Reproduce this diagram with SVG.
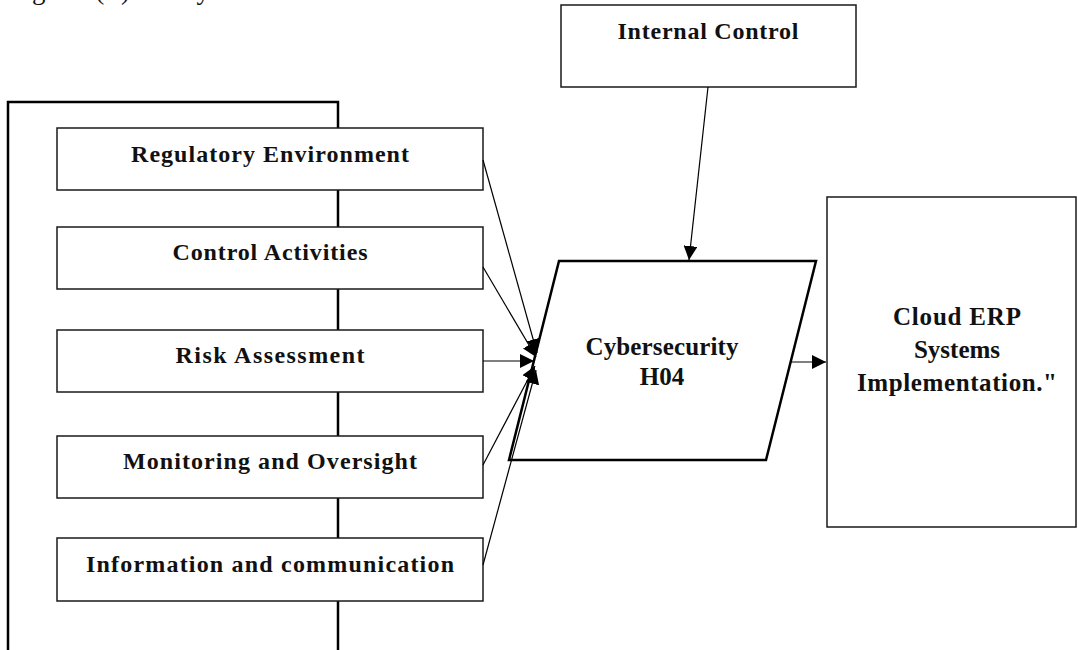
<svg xmlns="http://www.w3.org/2000/svg" width="1078" height="650" viewBox="0 0 1078 650">
  <style>
    .box { fill: #ffffff; stroke: #1a1a1a; stroke-width: 1.5; }
    .frame { fill: none; stroke: #000000; stroke-width: 2.5; }
    .para { fill: #ffffff; stroke: #000000; stroke-width: 2.5; }
    .lbl { font-family: "Liberation Serif", "Times New Roman", serif; font-weight: bold; font-size: 24px; fill: #111111; text-anchor: middle; }
    .big { font-size: 25px; }
    .edge { fill: none; stroke: #000000; stroke-width: 1.2; marker-end: url(#arrow); }
    .cap { font-family: "Liberation Serif", "Times New Roman", serif; font-size: 27px; fill: #111111; }
  </style>
  <defs>
    <marker id="arrow" viewBox="0 0 14 14" refX="14" refY="7" markerWidth="14" markerHeight="14" markerUnits="userSpaceOnUse" orient="auto">
      <path d="M0,0 L14,7 L0,14 Z" fill="#000000"/>
    </marker>
  </defs>
  <rect width="1078" height="650" fill="#ffffff"/>

  <!-- caption, clipped by the top edge -->
  <text class="cap" x="6" y="-1" textLength="204" lengthAdjust="spacing">Figure (1) Study</text>

  <!-- frame grouping the internal control components -->
  <g id="frame">
    <rect class="frame" x="8" y="102" width="330" height="560"/>
  </g>

  <g id="regulatory-environment">
    <rect class="box" x="57" y="128" width="426" height="62"/>
    <text class="lbl" x="270" y="162" textLength="278" lengthAdjust="spacing">Regulatory Environment</text>
  </g>
  <g id="control-activities">
    <rect class="box" x="57" y="227" width="426" height="62"/>
    <text class="lbl" x="270" y="260" textLength="195" lengthAdjust="spacing">Control Activities</text>
  </g>
  <g id="risk-assessment">
    <rect class="box" x="57" y="330" width="426" height="62"/>
    <text class="lbl" x="270" y="363" textLength="189" lengthAdjust="spacing">Risk Assessment</text>
  </g>
  <g id="monitoring-oversight">
    <rect class="box" x="57" y="436" width="426" height="62"/>
    <text class="lbl" x="270" y="469" textLength="294" lengthAdjust="spacing">Monitoring and Oversight</text>
  </g>
  <g id="information-communication">
    <rect class="box" x="57" y="538" width="426" height="63"/>
    <text class="lbl" x="270" y="572" textLength="368" lengthAdjust="spacing">Information and communication</text>
  </g>

  <g id="internal-control">
    <rect class="box" x="561" y="5" width="295" height="82"/>
    <text class="lbl" x="708" y="39" textLength="181" lengthAdjust="spacing">Internal Control</text>
  </g>

  <g id="cybersecurity">
    <polygon class="para" points="559,261 816,261 766,460 509,460"/>
    <text class="lbl big" x="662" y="355" textLength="153" lengthAdjust="spacing">Cybersecurity</text>
    <text class="lbl big" x="662" y="385">H04</text>
  </g>

  <g id="cloud-erp">
    <rect class="box" x="827" y="197" width="249" height="330"/>
    <text class="lbl big" x="957" y="325" textLength="128" lengthAdjust="spacing">Cloud ERP</text>
    <text class="lbl big" x="957" y="358">Systems</text>
    <text class="lbl big" x="957" y="391" textLength="200" lengthAdjust="spacing">Implementation."</text>
  </g>

  <g id="connectors">
    <line class="edge" x1="483" y1="160" x2="537" y2="353"/>
    <line class="edge" x1="483" y1="267" x2="536" y2="357"/>
    <line class="edge" x1="483" y1="361" x2="534" y2="361"/>
    <line class="edge" x1="483" y1="465" x2="535" y2="366"/>
    <line class="edge" x1="483" y1="565" x2="536" y2="370"/>
    <line class="edge" x1="708" y1="87" x2="689" y2="260"/>
    <line class="edge" x1="791" y1="362" x2="826" y2="362"/>
  </g>
</svg>
